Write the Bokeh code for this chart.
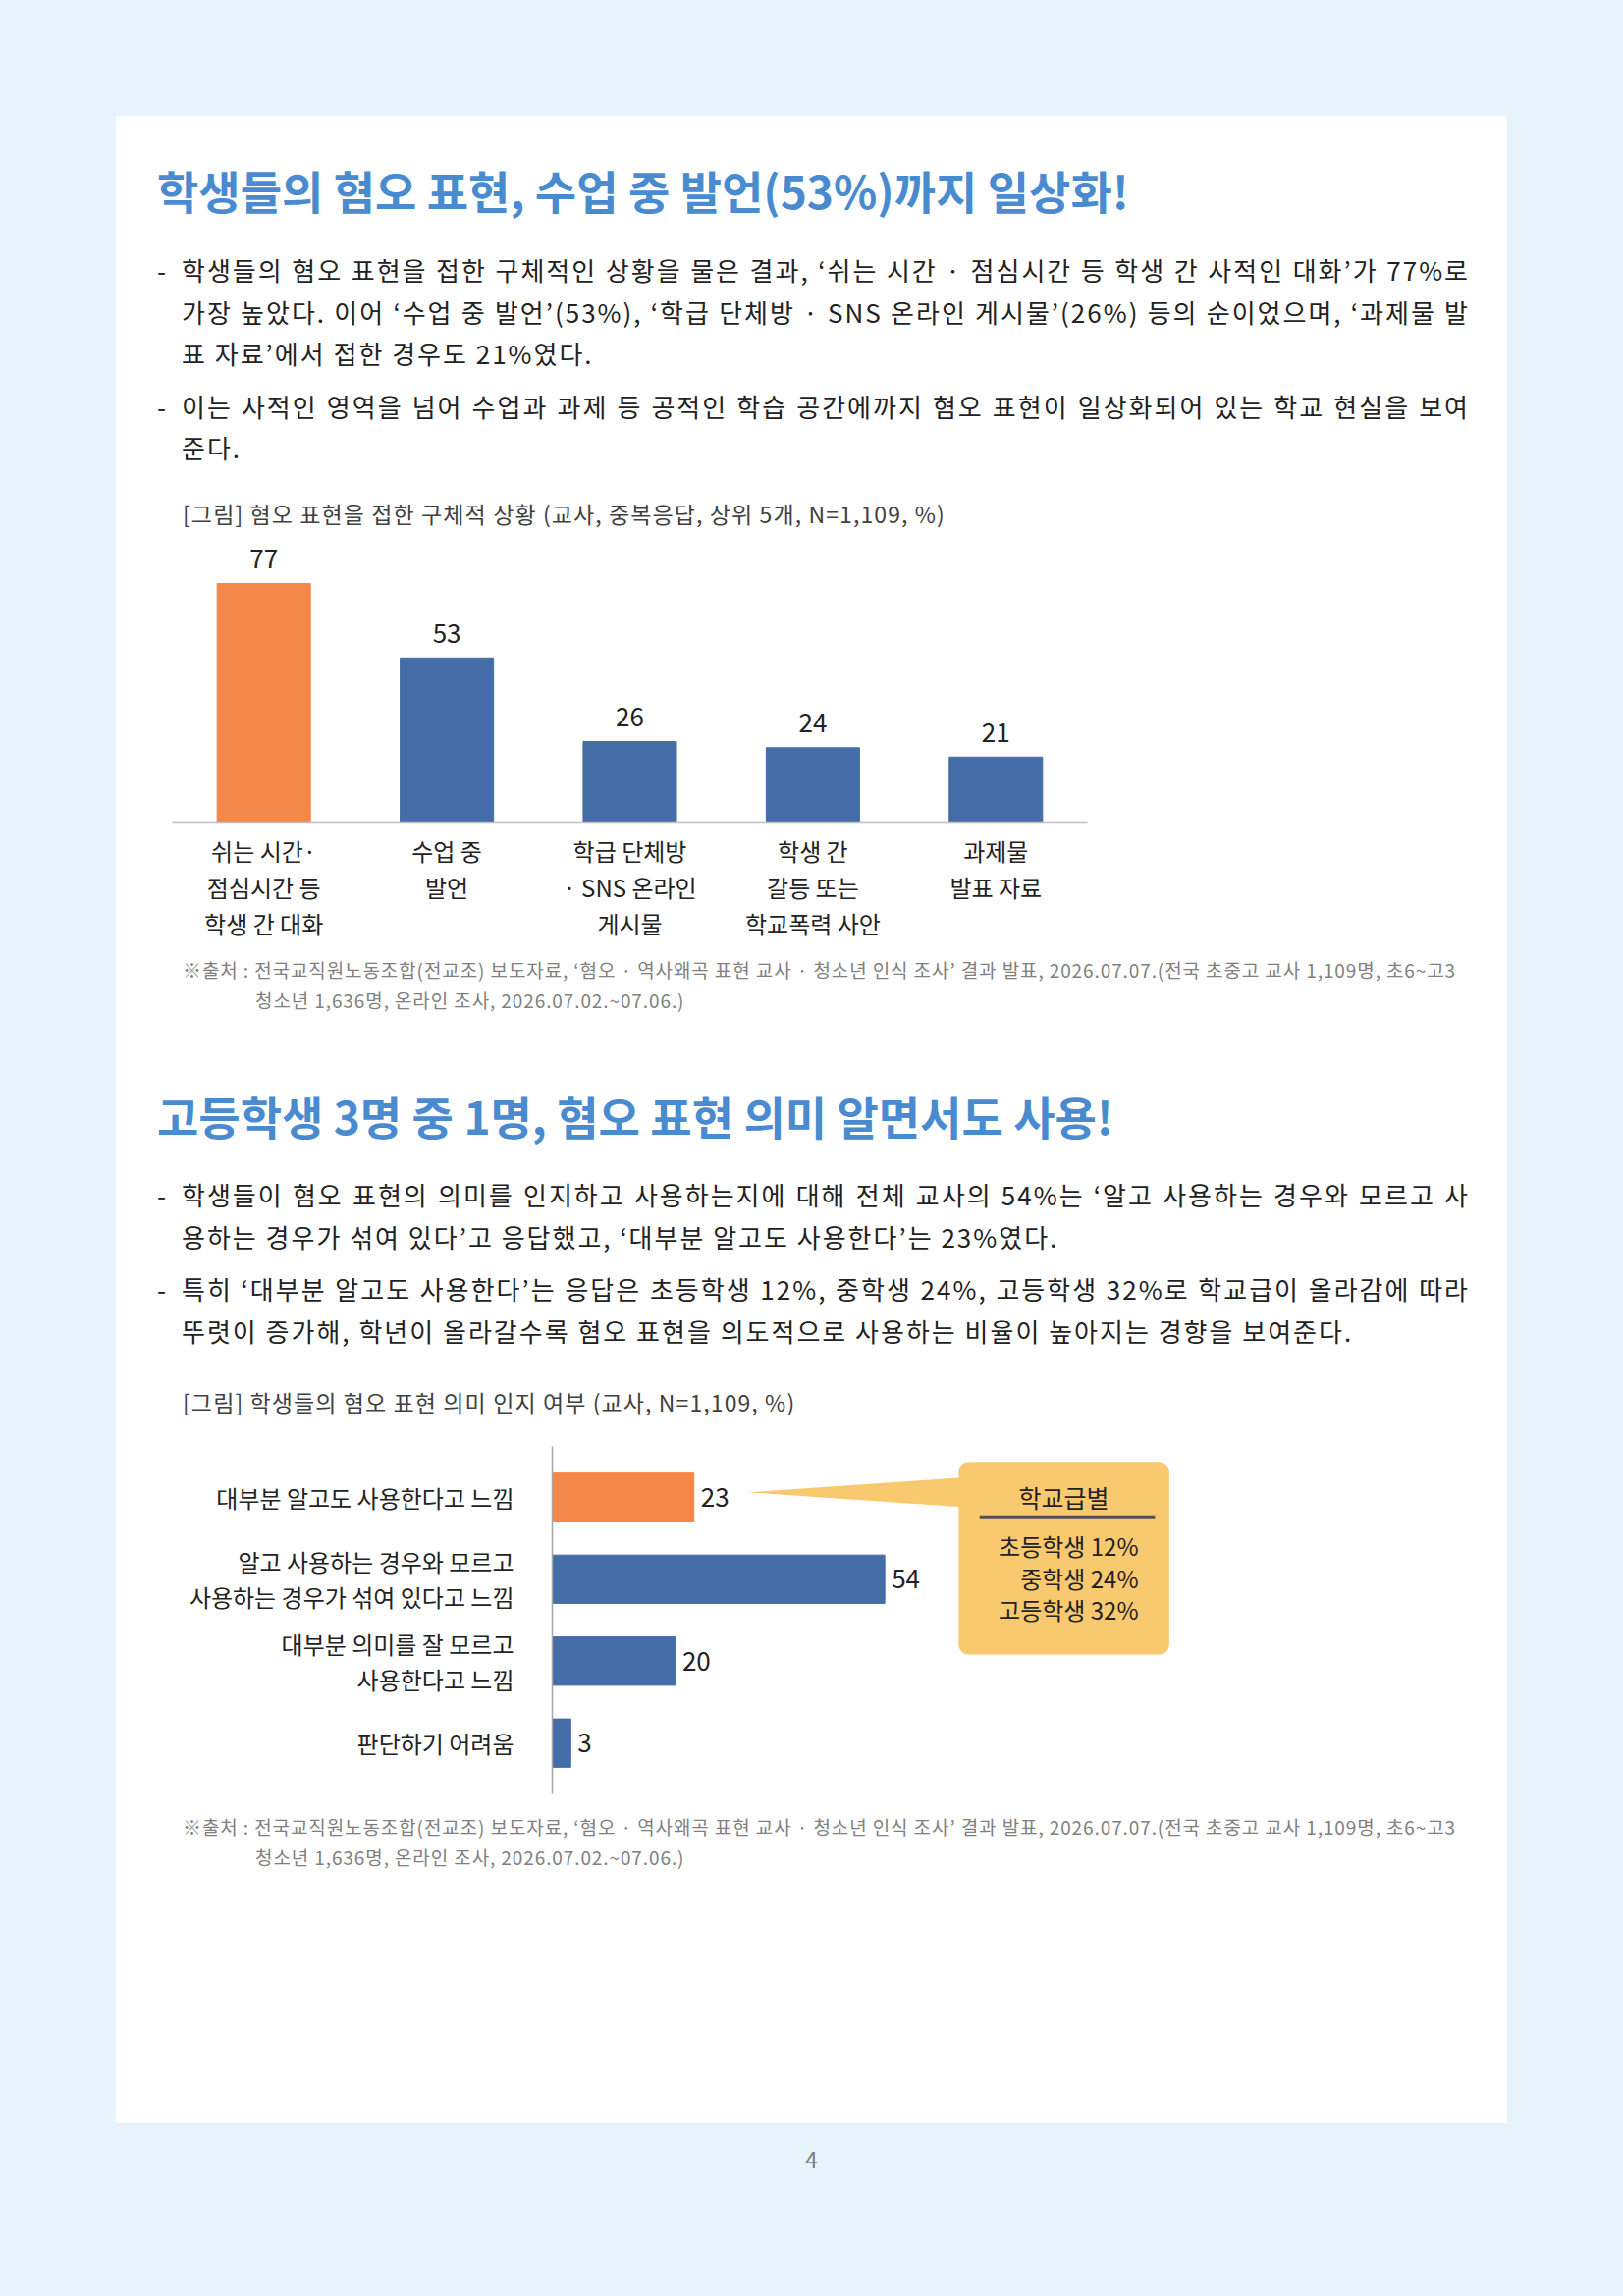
from bokeh.plotting import figure
from bokeh.models import (ColumnDataSource, FactorRange, Range1d, LabelSet, Label,
                          BoxAnnotation, PolyAnnotation, Div, Spacer, GlobalInlineStyleSheet)
from bokeh.layouts import column, row
from bokeh.core.properties import value
from bokeh.embed import file_html
from bokeh.resources import INLINE

FONT = "Noto Sans CJK KR"
BG = "#E8F4FC"
TITLE_BLUE = "#4A8BD0"
ORANGE = "#F4874A"
BLUE = "#456DA8"
CALLOUT = "#F9C96F"
INK = "#222222"

# ---- data ----
title1 = "학생들의 혐오 표현, 수업 중 발언(53%)까지 일상화!"
bullets1 = [
    ["학생들의 혐오 표현을 접한 구체적인 상황을 물은 결과, ‘쉬는 시간 · 점심시간 등 학생 간 사적인 대화’가 77%로",
     "가장 높았다. 이어 ‘수업 중 발언’(53%), ‘학급 단체방 · SNS 온라인 게시물’(26%) 등의 순이었으며, ‘과제물 발",
     "표 자료’에서 접한 경우도 21%였다."],
    ["이는 사적인 영역을 넘어 수업과 과제 등 공적인 학습 공간에까지 혐오 표현이 일상화되어 있는 학교 현실을 보여",
     "준다."],
]
caption1 = "[그림] 혐오 표현을 접한 구체적 상황 (교사, 중복응답, 상위 5개, N=1,109, %)"
situations = ["쉬는 시간·\n점심시간 등\n학생 간 대화", "수업 중\n발언", "학급 단체방\n· SNS 온라인\n게시물",
              "학생 간\n갈등 또는\n학교폭력 사안", "과제물\n발표 자료"]
situation_pct = [77, 53, 26, 24, 21]

source_lines = ["※출처 : 전국교직원노동조합(전교조) 보도자료, ‘혐오 · 역사왜곡 표현 교사 · 청소년 인식 조사’ 결과 발표, 2026.07.07.(전국 초중고 교사 1,109명, 초6~고3",
                "청소년 1,636명, 온라인 조사, 2026.07.02.~07.06.)"]

title2 = "고등학생 3명 중 1명, 혐오 표현 의미 알면서도 사용!"
bullets2 = [
    ["학생들이 혐오 표현의 의미를 인지하고 사용하는지에 대해 전체 교사의 54%는 ‘알고 사용하는 경우와 모르고 사",
     "용하는 경우가 섞여 있다’고 응답했고, ‘대부분 알고도 사용한다’는 23%였다."],
    ["특히 ‘대부분 알고도 사용한다’는 응답은 초등학생 12%, 중학생 24%, 고등학생 32%로 학교급이 올라감에 따라",
     "뚜렷이 증가해, 학년이 올라갈수록 혐오 표현을 의도적으로 사용하는 비율이 높아지는 경향을 보여준다."],
]
caption2 = "[그림] 학생들의 혐오 표현 의미 인지 여부 (교사, N=1,109, %)"
awareness = ["대부분 알고도 사용한다고 느낌", "알고 사용하는 경우와 모르고\n사용하는 경우가 섞여 있다고 느낌",
             "대부분 의미를 잘 모르고\n사용한다고 느낌", "판단하기 어려움"]
awareness_pct = [23, 54, 20, 3]
highlight2 = "대부분 알고도 사용한다고 느낌"
callout_title = "학교급별"
school_levels = ["초등학생", "중학생", "고등학생"]
school_pct = [12, 24, 32]

PAGE_W, PAGE_H = 1653, 2339
PANEL_X, PANEL_Y = 118, 118
PANEL_W, PANEL_H = 1417, 2045


# ---- html helpers ----
def text_line(txt, left, cy, size, color=INK, weight="normal", width=None, spacing=0):
    h = round(size * 1.6)
    style = (f"position:absolute;left:{left}px;top:{cy - h / 2 - 1:.1f}px;height:{h}px;"
             f"line-height:{h}px;font-size:{size}px;color:{color};font-weight:{weight};"
             f"letter-spacing:{spacing}px;")
    if width:
        style += f"width:{width}px;text-align:justify;text-align-last:justify;"
    else:
        style += "white-space:nowrap;"
    return f'<div style="{style}">{txt}</div>'


def block(items, height):
    html = (f'<div style="position:relative;width:{PANEL_W}px;height:{height}px;'
            f"font-family:'{FONT}';\">" + "".join(items) + "</div>")
    return Div(text=html, width=PANEL_W, height=height, margin=0)


def bullet_items(paras, cy, line_gap=42.5, para_gap=53.5):
    items = []
    for lines in paras:
        items.append(text_line("-", 42, cy, 26))
        for i, ln in enumerate(lines):
            last = i == len(lines) - 1
            items.append(text_line(ln, 67, cy, 26, width=None if last else 1312, spacing=2))
            if not last:
                cy += line_gap
        cy += para_gap
    return items


def source_items(cy):
    return [text_line(source_lines[0], 68, cy, 19, color="#808080", spacing=0.9),
            text_line(source_lines[1], 142, cy + 31, 19, color="#808080", spacing=0.9)]


# ---- top text block ----
top_items = [text_line(title1, 42, 76, 46, color=TITLE_BLUE, weight="bold")]
top_items += bullet_items(bullets1, 158)
top_items.append(text_line(caption1, 68, 406, 23, color="#404040", spacing=1.1))
div_top = block(top_items, 430)

# ---- chart 1: vertical bars ----
src1 = ColumnDataSource(dict(
    cat=situations, pct=situation_pct, lab=[str(v) for v in situation_pct],
    color=[ORANGE if v == max(situation_pct) else BLUE for v in situation_pct]))
p1 = figure(x_range=FactorRange(factors=situations), y_range=Range1d(0, 91.6),
            width=57 + 932 + 20, height=289 + 126,
            min_border_left=57, min_border_right=20,
            min_border_top=0, min_border_bottom=126, output_backend="svg",
            toolbar_location=None, tools="", margin=0)
p1.frame_align = False
p1.vbar(x="cat", top="pct", width=0.51, color="color", source=src1)
p1.add_layout(LabelSet(x="cat", y="pct", text="lab", source=src1, y_offset=25,
                       text_align="center", text_baseline="middle", text_font=value(FONT),
                       text_font_size="26px", text_color=INK))
p1.yaxis.visible = False
p1.grid.visible = False
p1.outline_line_color = None
p1.background_fill_color = "white"
p1.border_fill_color = "white"
ax1 = p1.xaxis[0]
ax1.axis_line_color = "#BFBFBF"
ax1.axis_line_width = 1.5
ax1.major_tick_line_color = None
ax1.minor_tick_line_color = None
ax1.major_label_text_font = FONT
ax1.major_label_text_font_size = "24px"
ax1.major_label_text_color = INK
ax1.major_label_text_line_height = 1.07
ax1.major_label_standoff = 5

# ---- middle text block ----
mid_items = source_items(26)
mid_items.append(text_line(title2, 42, 174, 46, color=TITLE_BLUE, weight="bold"))
mid_items += bullet_items(bullets2, 255)
mid_items.append(text_line(caption2, 68, 466, 23, color="#404040", spacing=1.1))
div_mid = block(mid_items, 505)

# ---- chart 2: horizontal bars with callout ----
src2 = ColumnDataSource(dict(
    cat=awareness, pct=awareness_pct, lab=[str(v) for v in awareness_pct],
    color=[ORANGE if c == highlight2 else BLUE for c in awareness]))
p2 = figure(y_range=FactorRange(factors=awareness[::-1], range_padding=0.06),
            x_range=Range1d(0, 107.8),
            width=444 + 676 + 20, height=5 + 354 + 6,
            min_border_left=444, min_border_right=20,
            min_border_top=5, min_border_bottom=6, output_backend="svg",
            toolbar_location=None, tools="", margin=0)
p2.frame_align = False
p2.hbar(y="cat", right="pct", left=0, height=0.59, color="color", source=src2)
p2.add_layout(LabelSet(x="pct", y="cat", text="lab", source=src2, x_offset=7,
                       text_align="left", text_baseline="middle", text_font=value(FONT),
                       text_font_size="26px", text_color=INK))
p2.xaxis.visible = False
p2.grid.visible = False
p2.outline_line_color = None
p2.background_fill_color = "white"
p2.border_fill_color = "white"
ax2 = p2.yaxis[0]
ax2.axis_line_color = "#A6A6A6"
ax2.axis_line_width = 1.5
ax2.major_tick_line_color = None
ax2.minor_tick_line_color = None
ax2.major_label_text_font = FONT
ax2.major_label_text_font_size = "24px"
ax2.major_label_text_color = INK
ax2.major_label_text_line_height = 1.04
ax2.major_label_standoff = 33

# callout box (annotation placement)
bx_l, bx_r, bx_t, bx_b = 66.0, 100.2, 3.93, 1.58
p2.add_layout(PolyAnnotation(xs=[31.6, bx_l + 0.5, bx_l + 0.5], ys=[3.56, 3.74, 3.38],
                             fill_color=CALLOUT, fill_alpha=1, line_color=None, level="underlay"))
p2.add_layout(BoxAnnotation(left=bx_l, right=bx_r, top=bx_t, bottom=bx_b, fill_color=CALLOUT,
                            fill_alpha=1, line_color=None, border_radius=10, level="underlay"))
p2.add_layout(Label(x=(bx_l + bx_r) / 2, y=3.5, text=callout_title, text_align="center",
                    text_baseline="middle", text_font=FONT, text_font_size="25px", text_color=INK))
p2.add_layout(BoxAnnotation(left=69.4, right=97.9, top=3.278, bottom=3.242, fill_color="#505050",
                            fill_alpha=1, line_color=None))
for i, (lvl, pct) in enumerate(zip(school_levels, school_pct)):
    p2.add_layout(Label(x=95.2, y=2.91 - 0.39 * i, text=f"{lvl} {pct}%", text_align="right",
                        text_baseline="middle", text_font=FONT, text_font_size="24px",
                        text_color=INK))

# ---- bottom text block ----
div_bot = block(source_items(29), 330)

panel = column(div_top, p1, div_mid, p2, div_bot, width=PANEL_W, height=PANEL_H,
               spacing=0, margin=0, styles={"background-color": "white"})

foot_h = PAGE_H - PANEL_Y - PANEL_H
page_no = Div(text=(f"<div style=\"position:relative;width:{PAGE_W}px;height:{foot_h}px;font-family:'{FONT}';\">"
                    f'<div style="position:absolute;left:0;width:{PAGE_W}px;top:19px;height:34px;line-height:34px;'
                    f'text-align:center;font-size:23px;color:#7F7F7F;">4</div></div>'),
              width=PAGE_W, height=foot_h, margin=0)

root = column(Spacer(width=PAGE_W, height=PANEL_Y, margin=0),
              row(Spacer(width=PANEL_X, height=PANEL_H, margin=0), panel, width=PAGE_W, height=PANEL_H,
                  spacing=0, margin=0),
              page_no, width=PAGE_W, height=PAGE_H, spacing=0, margin=0,
              styles={"background-color": BG},
              stylesheets=[GlobalInlineStyleSheet(css=f"html, body {{ background-color: {BG}; }}")])

open("out.html", "w").write(file_html(root, INLINE))
